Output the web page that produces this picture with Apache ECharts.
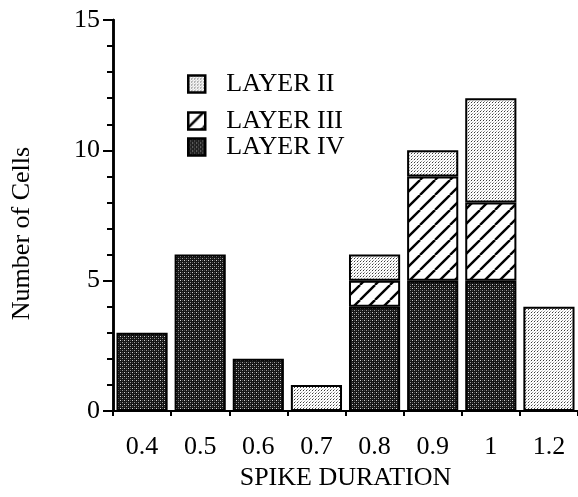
<!DOCTYPE html>
<html>
<head>
<meta charset="utf-8">
<script src="https://cdn.jsdelivr.net/npm/echarts@6/dist/echarts.min.js"></script>
<style>
html,body{margin:0;padding:0;background:#fff;}
#main{width:578px;height:497px;}
</style>
</head>
<body>
<div id="main"></div>
<script>
// ---- data ----
var categories = ['0.4', '0.5', '0.6', '0.7', '0.8', '0.9', '1', '1.2'];
var layerIV  = [3, 6, 2, null, 4, 5, 5, null];
var layerIII = [null, null, null, null, 1, 4, 3, null];
var layerII  = [null, null, null, 1, 1, 1, 4, 4];
var yTicks = [0, 5, 10, 15];

// ---- patterns ----
function makeDots(bg, dots, size) {
  var c = document.createElement('canvas');
  c.width = size; c.height = size;
  var g = c.getContext('2d');
  g.fillStyle = bg; g.fillRect(0, 0, size, size);
  dots.forEach(function (d) { g.fillStyle = d[2]; g.fillRect(d[0], d[1], 1, 1); });
  return c;
}
function makeHatch() {
  var s = 15;
  var c = document.createElement('canvas');
  c.width = s; c.height = s;
  var g = c.getContext('2d');
  g.fillStyle = '#fff'; g.fillRect(0, 0, s, s);
  g.strokeStyle = '#000'; g.lineWidth = 2.4;
  [[-s, s, 0, 0], [0, s, s, 0], [s, s, 2 * s, 0]].forEach(function (l) {
    g.beginPath(); g.moveTo(l[0], l[1]); g.lineTo(l[2], l[3]); g.stroke();
  });
  return c;
}
var darkPat = makeDots('#151515', [[0,0,'#d0d0d0'],[2,2,'#9a9a9a'],[2,0,'#555555'],[0,2,'#4a4a4a']], 4);
var lightPat = makeDots('#ffffff', [[0,0,'#3a3a3a'],[1,2,'#999999'],[2,1,'#dddddd']], 3);
var hatchPat = makeHatch();

var font = 'Liberation Serif';
var fs = 26;
var chart = echarts.init(document.getElementById('main'), null, {renderer: 'canvas'});

function legendAt(name, top) {
  return {
    data: [{name: name, icon: 'rect'}], left: 187, top: top, orient: 'vertical', padding: 0,
    itemWidth: 17, itemHeight: 17, selectedMode: false,
    itemStyle: {borderColor: '#000', borderWidth: 2.5},
    textStyle: {fontFamily: font, fontSize: fs, color: '#000', padding: [0, 0, 0, 16], lineHeight: 26}
  };
}

var itemBase = {borderColor: '#000', borderWidth: 2};
var yMin = yTicks[0], yMax = yTicks[yTicks.length - 1];

chart.setOption({
  animation: false,
  backgroundColor: '#fff',
  grid: {left: 113, right: 0, top: 20, bottom: 86, containLabel: false},
  legend: [legendAt('LAYER II', 71), legendAt('LAYER III', 108), legendAt('LAYER IV', 134)],
  xAxis: {
    type: 'category', data: categories, boundaryGap: true,
    name: 'SPIKE DURATION', nameLocation: 'middle', nameGap: 47,
    nameTextStyle: {fontFamily: font, fontSize: fs, color: '#000'},
    axisLine: {show: true, lineStyle: {color: '#000', width: 2}},
    axisTick: {show: true, length: 5, lineStyle: {color: '#000', width: 2}},
    axisLabel: {fontFamily: font, fontSize: fs, color: '#000', margin: 23}
  },
  yAxis: [{
    type: 'value', min: yMin, max: yMax, interval: 1, position: 'left', offset: 0,
    axisLine: {show: true, onZero: false, lineStyle: {color: '#000', width: 2.5}},
    axisTick: {show: true, length: 6, lineStyle: {color: '#000', width: 2}},
    axisLabel: {show: false}, splitLine: {show: false}
  }, {
    type: 'value', min: yMin, max: yMax, interval: 5, position: 'left', offset: 0,
    name: 'Number of Cells', nameLocation: 'middle', nameGap: 78,
    nameTextStyle: {fontFamily: font, fontSize: fs, color: '#000', padding: [0, 36, 0, 0]},
    axisLine: {show: true, onZero: false, lineStyle: {color: '#000', width: 2.5}},
    axisTick: {show: true, length: 10, lineStyle: {color: '#000', width: 2}},
    splitLine: {show: false},
    axisLabel: {fontFamily: font, fontSize: fs, color: '#000', margin: 13}
  }],
  series: [
    {name: 'LAYER IV', type: 'bar', stack: 'a', data: layerIV, barCategoryGap: '12%',
     itemStyle: Object.assign({color: {image: darkPat, repeat: 'repeat'}}, itemBase)},
    {name: 'LAYER III', type: 'bar', stack: 'a', data: layerIII, barCategoryGap: '12%',
     itemStyle: Object.assign({color: {image: hatchPat, repeat: 'repeat'}}, itemBase)},
    {name: 'LAYER II', type: 'bar', stack: 'a', data: layerII, barCategoryGap: '12%',
     itemStyle: Object.assign({color: {image: lightPat, repeat: 'repeat'}}, itemBase)},
    {name: 'ticks', type: 'line', yAxisIndex: 1, data: [], silent: true, showSymbol: false}
  ]
});
</script>
</body>
</html>
